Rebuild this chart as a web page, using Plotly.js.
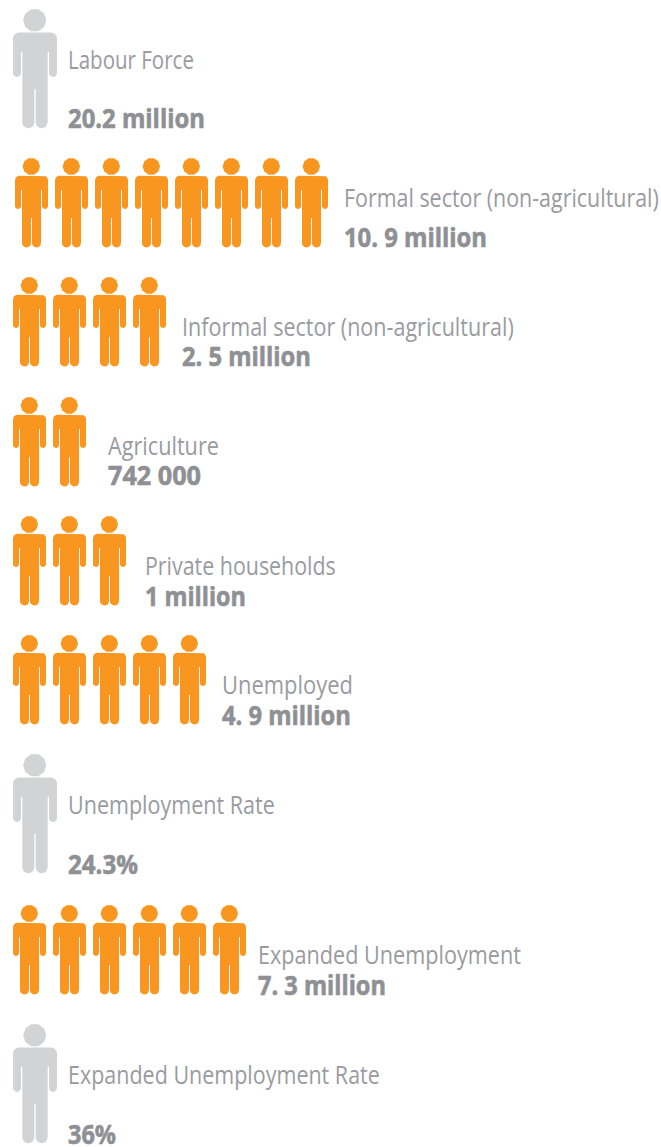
<!DOCTYPE html>
<html>
<head>
<meta charset="utf-8">
<script src="https://cdn.plot.ly/plotly-3.0.1.min.js"></script>
<style>html,body{margin:0;padding:0;background:#fff}</style>
</head>
<body>
<div id="chart" style="width:661px;height:1147px"></div>
<script>
// ---- data ----
const categories = ["Labour Force","Formal sector (non-agricultural)","Informal sector (non-agricultural)","Agriculture","Private households","Unemployed","Unemployment Rate","Expanded Unemployment","Expanded Unemployment Rate"];
const valueLabels = ["20.2 million","10. 9 million","2. 5 million","742 000","1 million","4. 9 million","24.3%","7. 3 million","36%"];
const iconCounts = [1,8,4,2,3,5,1,6,1];
const isSummary = [true,false,false,false,false,false,true,false,true];

// ---- layout (pixel space of the page) ----
const rowTop = [9,158,277,397,516,635,754,905,1024];
const rowLeft = [13,15,13,13,13,13,13,13,13];
const labelX = [68,344,182,108,145,222,68,258,68];
const labelY = [63,201,330,449,569,688,808,958,1078];
const valueY = [122,241,360,479,600,719,868,989,1138];
const labelWidth = [126,315,332,111,191,131,207,263,312];
const valueWidth = [137,143,129,93,101,129,70,128,48];
const PITCH = 40;
const SMALL = 1, BIG = 1.333;
const GREY = "#d1d3d4", ORANGE = "#f8961f", LABEL = "#9a9b9f", VALUE = "#8f9094";
const FONT = '"Open Sans",sans-serif';

// ---- person glyph, unit box 33 x 90 ----
function arc(cx,cy,r,a0,a1){
  const n=10,p=[];
  for(let i=0;i<=n;i++){const a=(a0+(a1-a0)*i/n)*Math.PI/180;p.push([cx+r*Math.cos(a),cy+r*Math.sin(a)]);}
  return p;
}
const body = [].concat(
  arc(4.5,22.2,4.5,180,270), arc(28.5,22.2,4.5,270,360),
  arc(30,48,3,0,180), [[27,32],[26,32]],
  arc(21.5,85,4.5,0,180), [[17,60],[16,60]],
  arc(11.5,85,4.5,0,180), [[7,32],[6,32]],
  arc(3,48,3,0,180)
);
const head = arc(16.3,8.4,8.7,0,360);

function addGlyph(xs,ys,left,top,s){
  [body,head].forEach(poly=>{
    poly.forEach(p=>{xs.push(left+p[0]*s);ys.push(top+p[1]*s);});
    xs.push(left+poly[0][0]*s);ys.push(top+poly[0][1]*s);
    xs.push(null);ys.push(null);
  });
}
const gx=[],gy=[],ox=[],oy=[];
categories.forEach((c,i)=>{
  for(let k=0;k<iconCounts[i];k++){
    if(isSummary[i]) addGlyph(gx,gy,rowLeft[i]+k*PITCH,rowTop[i],BIG);
    else addGlyph(ox,oy,rowLeft[i]+k*PITCH,rowTop[i],SMALL);
  }
});

const iconTrace=(x,y,col)=>({type:"scatter",mode:"lines",x,y,fill:"toself",fillcolor:col,line:{width:0,color:col},hoverinfo:"skip",showlegend:false,connectgaps:false});
const traces=[
  iconTrace(gx,gy,GREY),
  iconTrace(ox,oy,ORANGE),
  {type:"scatter",mode:"text",x:labelX,y:labelY,text:categories,textposition:"middle right",
   textfont:{family:FONT,size:26,color:LABEL},hoverinfo:"skip",showlegend:false,cliponaxis:false},
  {type:"scatter",mode:"text",x:labelX,y:valueY,text:valueLabels.map(v=>"<b>"+v+"</b>"),textposition:"middle right",
   textfont:{family:FONT,size:26,color:VALUE},hoverinfo:"skip",showlegend:false,cliponaxis:false}
];
Plotly.newPlot("chart",traces,{
  width:661,height:1147,margin:{l:0,r:0,t:0,b:0,pad:0},
  paper_bgcolor:"#fff",plot_bgcolor:"#fff",showlegend:false,
  xaxis:{range:[0,661],visible:false,fixedrange:true},
  yaxis:{range:[1147,0],visible:false,fixedrange:true}
},{displayModeBar:false,staticPlot:true}).then(()=>{
  // The reference face is condensed: squeeze the real text horizontally to its measured width.
  const widths={}, heavy={};
  categories.forEach((c,i)=>widths[c]=labelWidth[i]);
  valueLabels.forEach((v,i)=>{widths[v]=valueWidth[i];heavy[v]=true;});
  document.querySelectorAll("#chart .textpoint text").forEach(t=>{
    const key=t.textContent, w=widths[key];
    if(!w) return;
    const k=w/t.getComputedTextLength();
    const x=parseFloat(t.getAttribute("x"));
    const old=t.getAttribute("transform")||"";
    t.setAttribute("transform",`translate(${x} 0) scale(${k} 1) translate(${-x} 0) ${old}`);
    if(heavy[key]){t.style.stroke=VALUE;t.style.strokeWidth="0.6px";}
  });
});
</script>
</body>
</html>
